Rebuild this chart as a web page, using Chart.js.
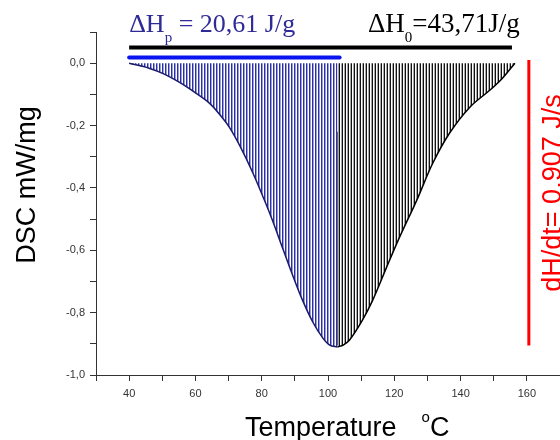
<!DOCTYPE html>
<html>
<head>
<meta charset="utf-8">
<script src="https://cdn.jsdelivr.net/npm/chart.js@4.4.1/dist/chart.umd.min.js"></script>
<style>
  body { margin: 0; background: #fff; }
  #wrap { width: 560px; height: 440px; }
</style>
</head>
<body>
<div id="wrap"><canvas id="dscChart" width="560" height="440"></canvas></div>
<script>
// --- data ---
// left part (up to the peak) = partial enthalpy, hatched blue
const tempLeft = [40, 46, 50.6, 55.1, 59.7, 64.2, 67.2, 70.2, 73.3, 77.2, 80.8, 83.2, 86.3, 89.3, 92.3, 95.4, 98.4, 100.5, 102.9];
const dscLeft  = [0, -0.016, -0.035, -0.061, -0.093, -0.128, -0.163, -0.205, -0.263, -0.349, -0.439, -0.503, -0.593, -0.679, -0.76, -0.83, -0.881, -0.904, -0.91];
// right part (after the peak), hatched black
const tempRight = [102.9, 104.6, 106.5, 110.4, 113.5, 117.7, 121.6, 126.8, 131.6, 136.7, 142.8, 148.8, 152.5, 156.4];
const dscRight  = [-0.91, -0.904, -0.888, -0.824, -0.76, -0.654, -0.558, -0.439, -0.321, -0.224, -0.141, -0.087, -0.05, 0];

// enthalpy bars and the dH/dt marker
const barTotalX = [40, 155.5], barTotalY = [0.05, 0.05];
const barPartX  = [40, 103.5], barPartY  = [0.018, 0.018];
const dividerX  = [102.9, 102.9], dividerY = [-0.22, -0.905];
const rateX     = [160.6, 160.6], rateY    = [0.01, -0.905];

// axis ticks
const xMin = 30, xMax = 170, xLabelled = [40, 60, 80, 100, 120, 140, 160];
const yMin = -1.0, yMax = 0.1;

const labelTotal = { pre: 'ΔH', sub: '0', post: '=43,71J/g' };
const labelPart  = { pre: 'ΔH', sub: 'p', post: ' = 20,61 J/g' };
const labelRate  = 'dH/dt= 0,907 J/s';

function pts(xs, ys) {
    return xs.map((x, i) => ({ x: x, y: ys[i] }));
}

const canvas = document.getElementById('dscChart');
const ctx = canvas.getContext('2d');

// vertical hatching used as fill
function stripes(colors) {
    const c = document.createElement('canvas');
    c.width = colors.length; c.height = 4;
    const g = c.getContext('2d');
    colors.forEach((col, i) => { g.fillStyle = col; g.fillRect(i, 0, 1, 4); });
    return ctx.createPattern(c, 'repeat');
}
const blueHatch = stripes(['#30309c', '#98a0e0', '#ffffff']);
const blackHatch = stripes(['#111111', '#ffffff', '#a8a8a8']);

// text that Chart.js can't do by itself (subscripts, rotated red note)
const textPlugin = {
    id: 'dscText',
    afterDraw(chart) {
        const c = chart.ctx;
        const xs = chart.scales.x;
        c.save();

        function subLabel(lbl, x, y, color, size) {
            c.fillStyle = color;
            c.textBaseline = 'alphabetic';
            c.textAlign = 'left';
            c.font = size + 'px "Liberation Serif", "Times New Roman", serif';
            c.fillText(lbl.pre, x, y);
            x += c.measureText(lbl.pre).width;
            c.font = '15px "Liberation Serif", "Times New Roman", serif';
            c.fillText(lbl.sub, x, y + 10);
            x += c.measureText(lbl.sub).width;
            c.font = size + 'px "Liberation Serif", "Times New Roman", serif';
            c.fillText(lbl.post, x, y);
        }
        subLabel(labelPart, xs.getPixelForValue(40), 32, '#2e2a96', 26);
        subLabel(labelTotal, 368, 32, '#000000', 27);

        // axis titles
        c.fillStyle = '#000';
        c.font = '27px "Liberation Sans", Arial, sans-serif';
        c.textAlign = 'left';
        c.fillText('Temperature', 245, 436);
        let tx = 245 + c.measureText('Temperature').width + 25;
        c.font = '15px "Liberation Sans", Arial, sans-serif';
        c.fillText('o', tx, 422);
        tx += c.measureText('o').width;
        c.font = '27px "Liberation Sans", Arial, sans-serif';
        c.fillText('C', tx, 436);

        c.save();
        c.translate(35, 185);
        c.rotate(-Math.PI / 2);
        c.textAlign = 'center';
        c.fillText('DSC mW/mg', 0, 0);
        c.restore();

        c.save();
        c.translate(561, 193);
        c.rotate(-Math.PI / 2);
        c.textAlign = 'center';
        c.fillStyle = '#ff0000';
        c.fillText(labelRate, 0, 0);
        c.restore();

        c.restore();
    }
};

new Chart(ctx, {
    type: 'scatter',
    data: {
        datasets: [
            {
                data: pts(tempLeft, dscLeft),
                showLine: true,
                borderColor: '#1a1a6a',
                borderWidth: 1.5,
                backgroundColor: blueHatch,
                fill: 'origin',
                tension: 0.35,
                pointRadius: 0
            },
            {
                data: pts(tempRight, dscRight),
                showLine: true,
                borderColor: '#000000',
                borderWidth: 1.5,
                backgroundColor: blackHatch,
                fill: 'origin',
                tension: 0.35,
                pointRadius: 0
            },
            {
                data: pts(dividerX, dividerY),
                showLine: true, borderColor: '#222', borderWidth: 1.5, pointRadius: 0
            },
            {
                data: pts(barTotalX, barTotalY),
                showLine: true, borderColor: '#000', borderWidth: 4, pointRadius: 0
            },
            {
                data: pts(barPartX, barPartY),
                showLine: true, borderColor: '#0a14f0', borderWidth: 4,
                borderCapStyle: 'round', pointRadius: 0
            },
            {
                data: pts(rateX, rateY),
                showLine: true, borderColor: '#ff0000', borderWidth: 3, pointRadius: 0
            }
        ]
    },
    options: {
        responsive: false,
        animation: false,
        layout: { padding: { top: 32, right: 0, left: 0, bottom: 0 } },
        plugins: {
            legend: { display: false },
            tooltip: { enabled: false }
        },
        scales: {
            x: {
                type: 'linear',
                min: xMin, max: xMax,
                afterFit(scale) {
                    scale.height = 65;
                    scale.paddingLeft = 0;
                    scale.paddingRight = 0;
                },
                grid: { drawOnChartArea: false, drawTicks: true, tickLength: 6, color: '#333' },
                border: { display: true, color: '#333', width: 1 },
                ticks: {
                    stepSize: 10,
                    padding: 6,
                    color: '#333',
                    font: { family: '"Liberation Sans", Arial, sans-serif', size: 11 },
                    autoSkip: false,
                    maxRotation: 0,
                    callback: function(v) {
                        return xLabelled.includes(Math.round(v)) ? String(Math.round(v)) : '';
                    }
                }
            },
            y: {
                min: yMin, max: yMax,
                afterFit(scale) {
                    scale.width = 96;
                    scale.paddingTop = 0;
                    scale.paddingBottom = 0;
                },
                grid: { drawOnChartArea: false, drawTicks: true, tickLength: 6, color: '#333' },
                border: { display: true, color: '#333', width: 1 },
                ticks: {
                    stepSize: 0.1,
                    padding: 5,
                    color: '#333',
                    font: { family: '"Liberation Sans", Arial, sans-serif', size: 11 },
                    autoSkip: false,
                    callback: function(v) {
                        const t = Math.round(v * 10);
                        if (t > 0 || t % 2 !== 0) return '';
                        return (t / 10).toFixed(1).replace('.', ',');
                    }
                }
            }
        }
    },
    plugins: [textPlugin]
});
</script>
</body>
</html>
